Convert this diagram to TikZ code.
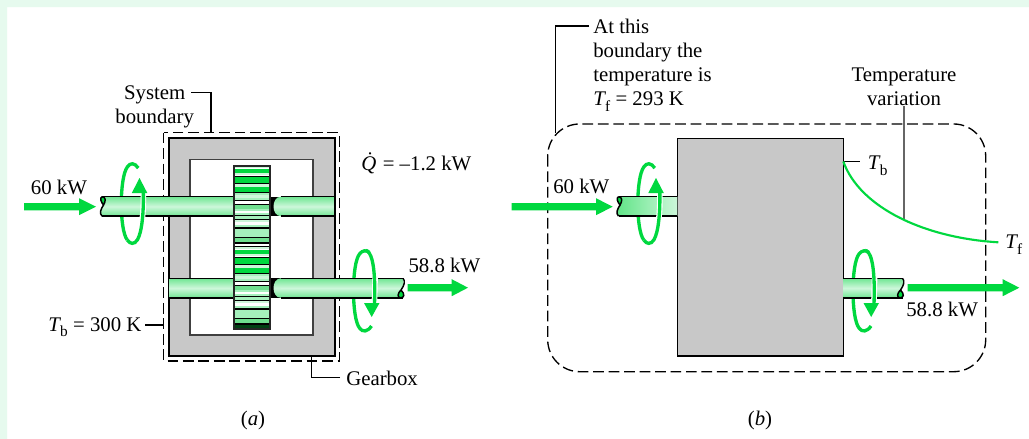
\documentclass[tikz,border=0pt]{standalone}
\usepackage{fontspec}
\setmainfont{Liberation Serif}
\definecolor{gr}{HTML}{00D83F}
\definecolor{sh}{HTML}{6FE692}
\definecolor{shl}{HTML}{CDF7DA}
\definecolor{hous}{HTML}{C8C8C8}
\definecolor{bgband}{HTML}{E6FAEE}
\definecolor{midg}{HTML}{6FDF8F}
\definecolor{lightg}{HTML}{A5F0BC}
\newcommand\Tsub[1]{\textit{T}\kern-0.04em\raisebox{-0.28em}{\fontsize{11.5}{12}\selectfont #1}}
\newcommand\Qdot{\textit{Q̇}\kern-0.22em}
\tikzset{
  lbl/.style={inner sep=0pt,anchor=base west,font=\fontsize{15.6}{18}\selectfont},
  lblc/.style={inner sep=0pt,anchor=base,align=center,font=\fontsize{15.6}{18}\selectfont},
  lead/.style={draw=black,line width=0.9pt},
  bound/.style={draw=black,line width=1pt,dash pattern=on 8pt off 3.6pt},
  powerarrow/.style={draw=none,fill=gr},
  rotline/.style={draw=gr,line width=2.5pt},
  halo/.style={draw=white,line width=4.2pt},
  shaftline/.style={draw=black,line width=1.1pt},
  shaftfill/.style={top color=sh,bottom color=sh,middle color=shl,draw=none}
}
% horizontal power arrow: x start, x head base, x tip, y
\newcommand\powerarr[4]{\path[powerarrow] (#1,#4-3.6)--(#2,#4-3.6)--(#2,#4-8.5)--(#3,#4)--(#2,#4+8.5)--(#2,#4+3.6)--(#1,#4+3.6)--cycle;}
% straight shaft piece x1 x2 ytop
\newcommand\shaftpiece[3]{\path[shaftfill] (#1,#3) rectangle (#2,#3+19.5);
  \draw[shaftline] (#1,#3)--(#2,#3) (#1,#3+19.5)--(#2,#3+19.5);}
% left hand broken shaft end at x offset, to x2 ; y fixed 196.7
\newcommand\wavyleft[3]{%
  \path[#3] (#1+2,196.7) .. controls (#1+5,198) and (#1+5,202) .. (#1+3.5,205) .. controls (#1+1,209) and (#1-1,213) .. (#1+2,216.2) -- (#2,216.2) -- (#2,196.7) -- cycle;
  \draw[shaftline] (#1+2,196.7)--(#2,196.7) (#1+2,216.2)--(#2,216.2);
  \draw[shaftline,fill=gr] (#1+2,196.7) .. controls (#1+6,197) and (#1+6,201) .. (#1+3.5,205) .. controls (#1+1,202) and (#1-0.5,198) .. (#1+2,196.7);
  \draw[shaftline] (#1+3.5,205) .. controls (#1+1,209) and (#1-1,213) .. (#1+2,216.2);}
% right hand broken shaft end at x2, from x1
\newcommand\wavyright[2]{%
  \path[shaftfill] (#1,278.3) rectangle (#2-3,297.8);
  \path[shaftfill] (#2-3,278.3) .. controls (#2,280) and (#2,284) .. (#2-3.5,289) -- (#2-7,297.8) -- (#2-3,297.8) -- cycle;
  \draw[shaftline] (#1,278.3)--(#2-1.5,278.3) (#1,297.8)--(#2-1.5,297.8);
  \draw[shaftline] (#2-1.5,278.3) .. controls (#2+1,281) and (#2,285) .. (#2-3.5,290);
  \draw[shaftline,fill=gr] (#2-3.5,290) .. controls (#2-7,293) and (#2-7.5,297.8) .. (#2-4,297.8) .. controls (#2,297.8) and (#2+0.5,294) .. (#2-3.5,290);}
% rotation marks: centre x
\newcommand\rotbackup[1]{\draw[rotline] (#1+6,168) .. controls (#1+2,162.5) and (#1-2,162.5) .. (#1-5,167) .. controls (#1-13,178) and (#1-13,230) .. (#1-5,240);}
\newcommand\rotfrontup[1]{%
  \draw[halo] (#1+11,193) .. controls (#1+11.5,210) and (#1+10,232) .. (#1+3,241);
  \draw[rotline] (#1-5,240) .. controls (#1-2,244.5) and (#1+2,244.5) .. (#1+5,240) .. controls (#1+10,232) and (#1+11.5,210) .. (#1+11,191);
  \path[fill=gr] (#1+7.2,178) -- (#1+15,193) -- (#1-0.5,193) -- cycle;}
\newcommand\rotbackdown[1]{\draw[rotline] (#1+5,252.5) .. controls (#1+2,250) and (#1-2,250) .. (#1-5,254) .. controls (#1-13,264) and (#1-13,318) .. (#1-5,328) .. controls (#1-2,332.5) and (#1+3,332) .. (#1+7,326);}
\newcommand\rotfrontdown[1]{%
  \draw[halo] (#1+11,262) -- (#1+10,300);
  \draw[rotline] (#1+1,250.5) .. controls (#1+6,250.5) and (#1+11.5,262) .. (#1+10,304);
  \path[fill=gr] (#1+7.2,317) -- (#1+15,303) -- (#1-0.5,303) -- cycle;}
% one period of gear stripes at offset y
\newcommand\gearbands[1]{%
 \foreach \a/\b/\c in {0/1.5/shl,1.5/3/white,3/6.5/gr,6.5/8.5/shl,8.5/10/white,10/11/black,11/16.5/gr,16.5/17.5/black,17.5/21/shl,21/25.7/gr,25.7/27/black,27/29/lightg,29/32/shl,32/34/lightg,34/35/black,35/38/white,38/39.2/black,39.2/43/midg,43/45/lightg,45/47/white,47/49/lightg,49/50/black,50/53/lightg,53/54/black,54/56/shl,56/59/white,59/61/lightg,61/63/black,63/71/lightg,71/72/black,72/76/midg,76/77.5/black,77.5/80/white,80/81/black}
   {\path[fill=\c] (234,#1+\a) rectangle (270,#1+\b);}}
\begin{document}
\begin{tikzpicture}[x=0.75pt,y=-0.75pt]
\useasboundingbox (0,0) rectangle (1029,439);
\path[fill=white] (0,0) rectangle (1029,439);
\path[fill=bgband] (0,0) rectangle (1029,7) (0,0) rectangle (7,439);
% ---------- figure a
\draw[draw=black,line width=1.1pt,fill=hous] (169,138) rectangle (335,356);
\draw[draw=black!75,line width=1.1pt,fill=white] (190,159.5) rectangle (313,335);
\path[bound] (163.7,132.8) rectangle (339.7,361);
\rotbackup{132.3}
\wavyleft{100}{234}{shaftfill}
\shaftpiece{169}{234}{278.3}
% black collars
\path[fill=black] (269,196.7) rectangle (281,216.2);
\path[fill=black] (269,278.3) rectangle (281,297.8);
\path[shaftfill] (281,196.7) .. controls (271,196.7) and (271,216.2) .. (281,216.2) -- (335,216.2) -- (335,196.7) -- cycle;
\draw[shaftline] (281,196.7)--(335,196.7)--(335,216.2)--(281,216.2);
\rotbackdown{364.5}
\path[shaftfill] (281,278.3) .. controls (271,278.3) and (271,297.8) .. (281,297.8) -- cycle;
\wavyright{281}{404.5}
\rotfrontup{132.3}
\rotfrontdown{364.5}
% gear
\gearbands{166}
\gearbands{247}
\path[fill=black!70!gr] (234,325) rectangle (270,329);
\draw[draw=black!85,line width=0.9pt] (234,166) rectangle (270,329);
\powerarr{24}{79}{96}{206.7}
\powerarr{407.7}{451.7}{468}{287.7}
\node[lblc] (sysb) at (154.7,123.3) {System\\boundary};
\coordinate (sysa) at (191,92.5);
\coordinate (sysc) at (211,132.8);
\draw[lead] (sysa) -| (sysc);
\node[lbl] (p60a) at (30.7,194) {60 kW};
\node[lbl] (qd) at (361,170) {\Qdot\ = –1.2 kW};
\node[lbl] (p58a) at (408.3,272.7) {58.8 kW};
\node[lbl] (tb300) at (48,331) {\Tsub{b} = 300 K};
\coordinate (tba) at (145,325);
\coordinate (tbc) at (163.7,325);
\draw[lead] (tba) -- (tbc);
\node[lbl] (gbx) at (346,385) {Gearbox};
\coordinate (gba) at (340,377.7);
\coordinate (gbc) at (311.7,356);
\draw[lead] (gba) -| (gbc);
\node[lblc] (capa) at (253,425) {(\textit{a})};
% ---------- figure b
\draw[bound,rounded corners=24pt] (547.7,124) rectangle (985.7,371.7);
\draw[draw=black,line width=1.1pt,fill=hous] (677.3,138.3) rectangle (843.3,356);
\rotbackup{648.8}
\wavyleft{616.5}{677.3}{left color=sh!85!gr,right color=shl}
\rotbackdown{864}
\wavyright{843.3}{904}
\rotfrontup{648.8}
\rotfrontdown{864}
\powerarr{511.7}{596}{612.7}{206.7}
\powerarr{907.7}{1002.7}{1019.3}{287.7}
\node[lbl] (p60b) at (553,193.3) {60 kW};
\node[lbl] (p58b) at (906,316) {58.8 kW};
\node[lblc,align=left,anchor=base west] (atb) at (593,105.5) {At this\\boundary the\\temperature is\\\Tsub{f} = 293 K};
\coordinate (ata) at (589,26);
\coordinate (atc) at (555.5,133);
\draw[lead] (ata) -| (atc);
\node[lblc] (tv) at (904,105.5) {Temperature\\variation};
\coordinate (tvc) at (904,219);
\draw[draw=black!60,line width=0.9pt] (tv.south) -- (tvc);
\node[lbl] (tbb) at (867.7,169.3) {\Tsub{b}};
\node[lbl] (tfb) at (1005,248.3) {\Tsub{f}};
\coordinate (tbs) at (843.3,161.5);
\draw[lead] (tbs) -- (860,161.5);
\draw[draw=gr,line width=1.6pt] (tbs) .. controls (860,208) and (925,238) .. (998.3,242.3);
\node[lblc] (capb) at (760,425) {(\textit{b})};
\end{tikzpicture}
\end{document}
